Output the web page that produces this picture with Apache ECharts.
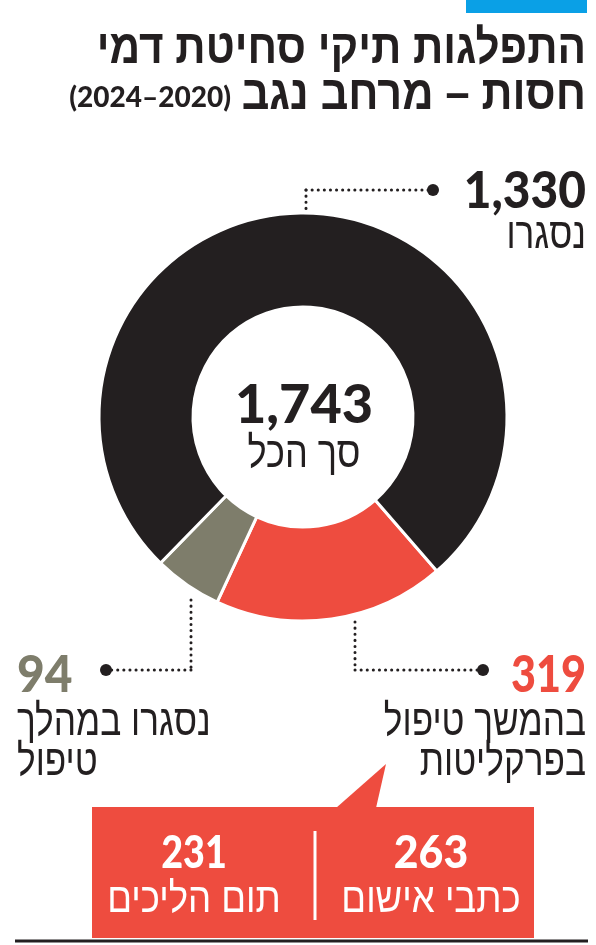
<!DOCTYPE html>
<html>
<head>
<meta charset="utf-8">
<script src="https://cdn.jsdelivr.net/npm/echarts@6/dist/echarts.min.js"></script>
<style>
  html, body { margin: 0; padding: 0; background: #fff; }
  #chart { width: 596px; height: 945px; }
</style>
</head>
<body>
<div id="chart"></div>
<script>
// values as read from the graphic
const categories = ["בהמשך טיפול\nבפרקליטות", "נסגרו במהלך\nטיפול", "נסגרו"];
const values = [319, 94, 1330];
const colors = ["#ee4c3f", "#7e7d6b", "#231f20"];
const subCategories = ["כתבי אישום", "תום הליכים"];
const subValues = [263, 231];
const titleLines = ["התפלגות תיקי סחיטת דמי", "חסות – מרחב נגב"];
const titleYears = "(2024–2020)";
const totalLabel = "סך הכל";

const total = values.reduce((a, b) => a + b, 0);
const fmt = (v) => v.toLocaleString("en-US");

const HEB = "'Liberation Sans', 'DejaVu Sans', sans-serif";
const NUM = "Lato, 'Open Sans', sans-serif";
const INK = "#231f20";

function txt(x, y, text, size, opts) {
  opts = opts || {};
  return {
    type: "text",
    x: x,
    y: y,
    scaleX: opts.scaleX || 1,
    silent: true,
    style: {
      text: text,
      fill: opts.color || INK,
      fontSize: size,
      fontWeight: opts.weight || "normal",
      fontFamily: opts.family || HEB,
      textAlign: opts.align || "right",
      align: opts.align || "right",
      textVerticalAlign: "middle",
      verticalAlign: "middle",
      lineHeight: opts.lineHeight || size,
    },
  };
}

function dotted(x1, y1, x2, y2) {
  return {
    type: "line",
    silent: true,
    shape: { x1: x1, y1: y1, x2: x2, y2: y2 },
    style: { stroke: INK, lineWidth: 3, lineDash: [0.1, 6], lineCap: "round" },
  };
}

function dot(cx, cy) {
  return { type: "circle", silent: true, shape: { cx: cx, cy: cy, r: 6 }, style: { fill: INK } };
}

const chart = echarts.init(document.getElementById("chart"));
chart.setOption({
  backgroundColor: "#fff",
  animation: false,
  series: [
    {
      type: "pie",
      center: [303, 417],
      radius: [110, 204],
      startAngle: -49,
      silent: true,
      label: { show: false },
      labelLine: { show: false },
      itemStyle: { borderColor: "#fff", borderWidth: 3 },
      data: values.map((v, i) => ({
        name: categories[i],
        value: v,
        itemStyle: { color: colors[i] },
      })),
    },
  ],
  graphic: [
    // header
    { type: "rect", silent: true, shape: { x: 466, y: 0, width: 121, height: 13 }, style: { fill: "#0aa0e6" } },
    txt(586, 50, titleLines[0], 48, { weight: "bold", scaleX: 0.88 }),
    txt(586, 96, titleLines[1], 48, { weight: "bold", scaleX: 0.9 }),
    txt(231, 98, titleYears, 28, { weight: 900, family: NUM }),

    // centre total
    txt(304, 406, fmt(total), 54, { weight: 900, family: NUM, align: "center" }),
    txt(304, 455, totalLabel, 44, { align: "center", scaleX: 0.82 }),

    // 1,330 closed
    dotted(306, 190, 306, 212),
    dotted(306, 190, 433, 190),
    dot(433, 190),
    txt(586, 191, fmt(values[2]), 52, { weight: 900, family: NUM, scaleX: 0.92 }),
    txt(586, 236, categories[2], 44, { scaleX: 0.8 }),

    // 94 closed during handling
    dotted(191, 600, 191, 670),
    dotted(191, 670, 106, 670),
    dot(106, 670),
    txt(17, 675, fmt(values[1]), 52, { weight: 900, family: NUM, align: "left", color: colors[1], scaleX: 0.92 }),
    txt(17, 743, categories[1], 44, { align: "left", lineHeight: 40, scaleX: 0.8 }),

    // 319 still in prosecution
    dotted(355, 622, 355, 670),
    dotted(355, 670, 483, 670),
    dot(483, 670),
    txt(586, 675, fmt(values[0]), 52, { weight: 900, family: NUM, color: colors[0], scaleX: 0.83 }),
    txt(586, 743, categories[0], 44, { lineHeight: 40, scaleX: 0.8 }),

    // callout box
    { type: "polygon", silent: true, shape: { points: [[336, 808], [376, 808], [386, 764]] }, style: { fill: colors[0] } },
    { type: "rect", silent: true, shape: { x: 92, y: 807, width: 442, height: 131 }, style: { fill: colors[0] } },
    { type: "line", silent: true, shape: { x1: 315, y1: 831, x2: 315, y2: 920 }, style: { stroke: "#fff", lineWidth: 3 } },
    txt(431, 853, fmt(subValues[0]), 46, { weight: 900, family: NUM, align: "center", color: "#fff", scaleX: 0.93 }),
    txt(431, 900, subCategories[0], 42, { align: "center", color: "#fff", scaleX: 0.87 }),
    txt(194, 853, fmt(subValues[1]), 46, { weight: 900, family: NUM, align: "center", color: "#fff", scaleX: 0.82 }),
    txt(194, 900, subCategories[1], 42, { align: "center", color: "#fff", scaleX: 0.87 }),

    // bottom rule
    { type: "line", silent: true, shape: { x1: 15, y1: 941, x2: 588, y2: 941 }, style: { stroke: INK, lineWidth: 3 } },
  ],
});
</script>
</body>
</html>
